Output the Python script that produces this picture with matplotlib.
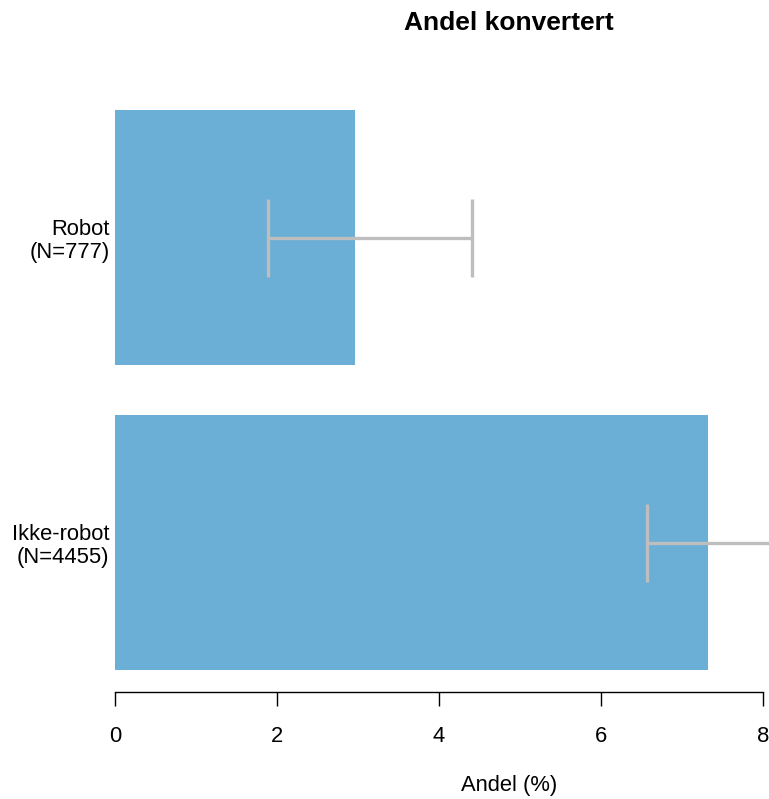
import matplotlib.pyplot as plt

plt.rcParams['font.family'] = ['Liberation Sans', 'DejaVu Sans']

# data
groups = ["Ikke-robot\n(N=4455)", "Robot\n(N=777)"]
andel = [7.32, 2.96]
ci_low = [6.57, 1.89]
ci_high = [8.12, 4.41]

W, H = 769, 799
fig = plt.figure(figsize=(W / 100, H / 100), dpi=100)

# axes placed in pixel terms
left, right = 115, 763
top, bottom = 110, 670
ax = fig.add_axes([left / W, 1 - bottom / H, (right - left) / W, (bottom - top) / H])

pos = [0, 1]
bar_h = 255 / 305
ax.barh(pos, andel, height=bar_h, color='#6baed6', zorder=1)

err_lo = [a - l for a, l in zip(andel, ci_low)]
err_hi = [h - a for a, h in zip(andel, ci_high)]
eb = ax.errorbar(andel, pos, xerr=[err_lo, err_hi], fmt='none', ecolor='#bebebe',
                 elinewidth=2.4, capsize=28, capthick=2.4, zorder=3)
for art in eb.lines[1]:
    art.set_clip_on(False)
for art in eb.lines[2]:
    art.set_clip_on(False)

ax.set_xlim(0, 8)
ax.set_ylim(-0.5 * bar_h, 1 + 0.5 * bar_h)
ax.set_yticks(pos)
ax.set_yticklabels(groups, fontsize=15.8, ha='right', linespacing=1.15)
ax.tick_params(axis='y', length=0, pad=4)
ax.set_xticks([0, 2, 4, 6, 8])
ax.tick_params(axis='x', labelsize=15.8, length=10, width=1, pad=14)

for s in ['top', 'right', 'left']:
    ax.spines[s].set_visible(False)
ax.spines['bottom'].set_position(('outward', 16))
ax.spines['bottom'].set_linewidth(1)

fig.text(509 / W, 1 - 23 / H, "Andel konvertert", ha='center', va='center',
         fontsize=19, fontweight='bold')
fig.text(509 / W, 1 - 786 / H, "Andel (%)", ha='center', va='center', fontsize=15.8)

fig.savefig("out.png", dpi=100)
